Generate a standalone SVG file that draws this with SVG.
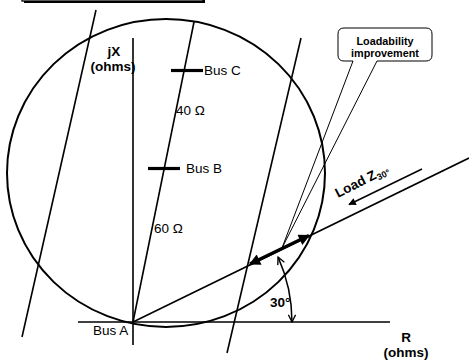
<svg xmlns="http://www.w3.org/2000/svg" width="469" height="360" viewBox="0 0 469 360">
<style>
text{font-family:"Liberation Sans",Arial,sans-serif;fill:#000}
.t{font-size:13.5px}
.b{font-size:13.5px;font-weight:bold}
.ln{stroke:#000;stroke-width:1.6;fill:none}
.tick{stroke:#000;stroke-width:3.2}
</style>
<defs>
<marker id="fa" viewBox="0 0 10 10" refX="9" refY="5" markerWidth="4" markerHeight="3.2" orient="auto-start-reverse" markerUnits="strokeWidth"><path d="M0,0 L10,5 L0,10 Z" fill="#000"/></marker>
<marker id="sa" viewBox="0 0 10 10" refX="9" refY="5" markerWidth="6" markerHeight="5" orient="auto-start-reverse" markerUnits="strokeWidth"><path d="M0,0 L10,5 L0,10 Z" fill="#000"/></marker>
<marker id="oa" viewBox="0 0 10 10" refX="9" refY="5" markerWidth="6" markerHeight="6" orient="auto-start-reverse" markerUnits="strokeWidth"><path d="M1,1 L9,5 L1,9" fill="none" stroke="#000" stroke-width="1.5"/></marker>
</defs>
<rect x="0" y="0" width="469" height="360" fill="#fff"/>
<g id="title-box">
<rect x="24" y="-18" width="181" height="21" fill="#000"/>
<rect x="22" y="-20" width="181" height="21" fill="#fff" stroke="#000" stroke-width="1.3"/>
</g>
<g id="callout">
<path d="M344,28 H426 Q432,28 432,34 V55 Q432,61 426,61 H377 L282,248 L353,61 H344 Q338,61 338,55 V34 Q338,28 344,28 Z" fill="none" stroke="#000" stroke-width="1"/>
<text x="385" y="45" text-anchor="middle" font-size="10.8" font-weight="bold">Loadability</text>
<text x="385" y="57" text-anchor="middle" font-size="10.8" font-weight="bold">improvement</text>
</g>
<g id="connectors">
<ellipse id="mho-circle" cx="166" cy="173" rx="159" ry="154" fill="none" stroke="#000" stroke-width="2"/>
<line class="ln" x1="133" y1="38" x2="133" y2="345"/>
<line class="ln" x1="78" y1="322" x2="390" y2="322"/>
<line class="ln" x1="133" y1="322" x2="194" y2="22"/>
<line class="ln" x1="96" y1="10" x2="22" y2="337"/>
<line class="ln" x1="301" y1="38" x2="227" y2="353"/>
<line class="ln" x1="133" y1="322" x2="469" y2="158"/>
<line x1="250" y1="264" x2="309" y2="235.5" stroke="#000" stroke-width="3.5" marker-start="url(#fa)" marker-end="url(#fa)"/>
<line x1="422" y1="169" x2="349" y2="204.5" stroke="#000" stroke-width="1.5" marker-end="url(#sa)"/>
<path d="M278.1,257.1 A159,159 0 0 1 292,322" fill="none" stroke="#000" stroke-width="1.5" marker-start="url(#oa)" marker-end="url(#oa)"/>
</g>
<g id="bus-c">
<line class="tick" x1="171" y1="70.5" x2="203" y2="70.5"/>
<text class="t" x="204" y="75">Bus C</text>
</g>
<g id="bus-b">
<line class="tick" x1="148" y1="168.5" x2="180" y2="168.5"/>
<text class="t" x="186" y="173">Bus B</text>
</g>
<g id="bus-a">
<text class="t" x="93" y="335">Bus A</text>
</g>
<g id="labels">
<text class="t" x="176" y="115">40 Ω</text>
<text class="t" x="154" y="233">60 Ω</text>
<text class="b" x="114" y="56" text-anchor="middle">jX</text>
<text class="b" x="113" y="71" text-anchor="middle">(ohms)</text>
<text class="b" x="406" y="342" text-anchor="middle">R</text>
<text class="b" x="406" y="357" text-anchor="middle">(ohms)</text>
<text class="b" x="270" y="307">30°</text>
<text class="b" x="338" y="198" transform="rotate(-27 338 198)">Load Z<tspan font-size="9" dy="3">30°</tspan></text>
</g>
</svg>
